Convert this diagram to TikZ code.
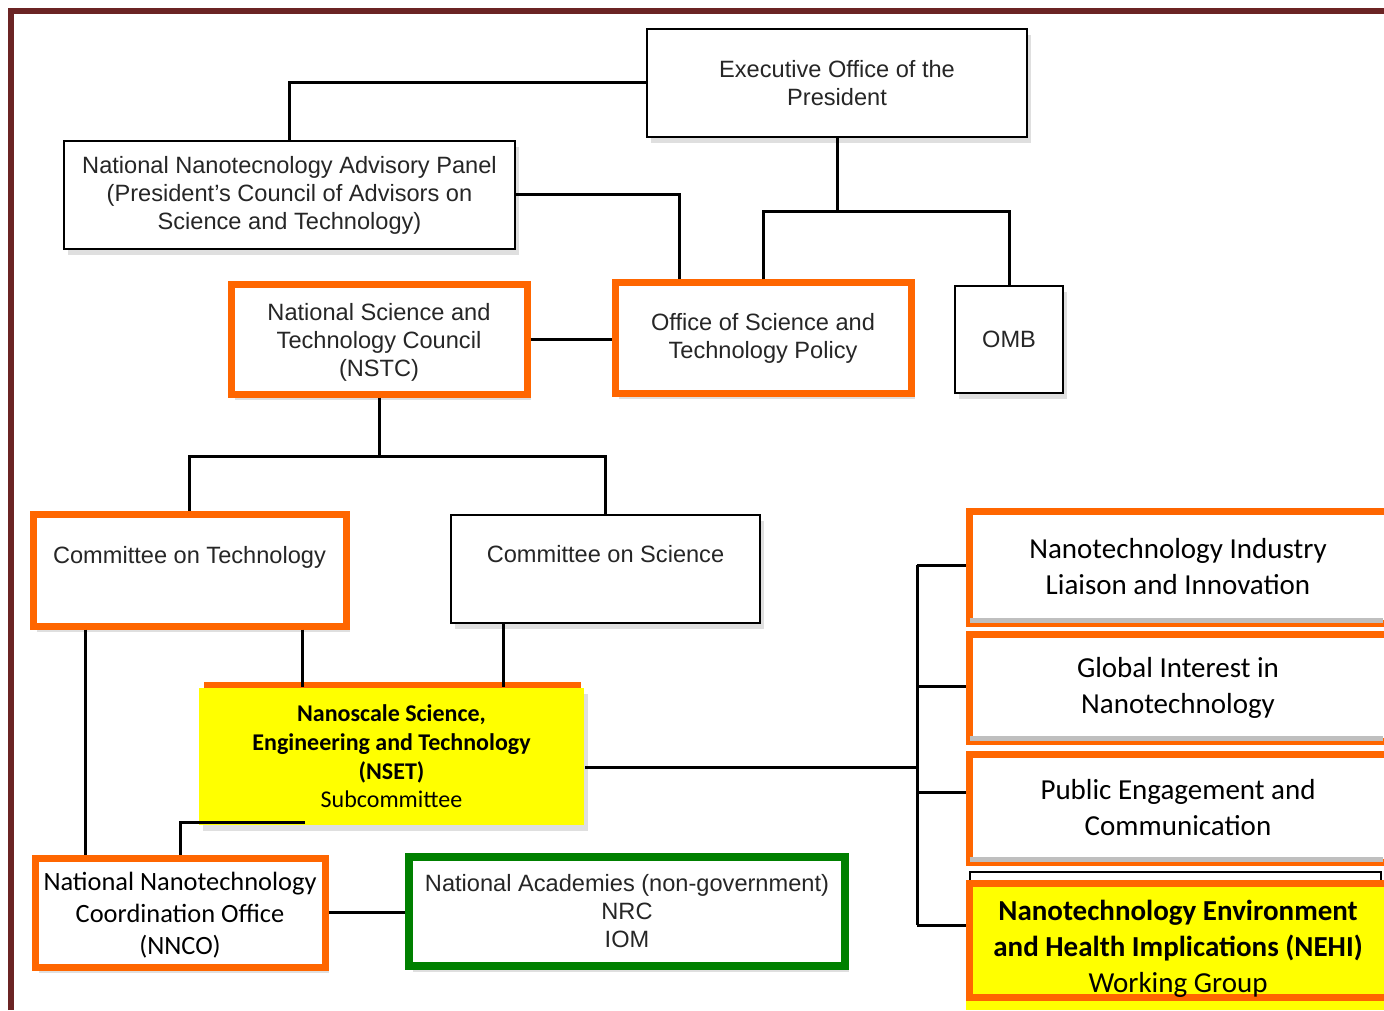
\documentclass[tikz,border=0pt]{standalone}
\usepackage{fontspec}
\setmainfont{Liberation Sans}
\newfontfamily\calib{Carlito}
\usetikzlibrary{positioning,shadows}
\definecolor{framered}{RGB}{107,36,36}
\definecolor{nanoorange}{RGB}{255,102,0}
\definecolor{nanogreen}{RGB}{0,128,0}
\definecolor{nanoyellow}{RGB}{255,255,0}

\begin{document}
\begin{tikzpicture}[x=0.5pt,y=-0.5pt,
    sz/.style 2 args={minimum width=#1*0.5pt, minimum height=#2*0.5pt},
    box/.style={draw=black, line width=1pt, fill=white, text=black!85, align=center, inner sep=0pt,
      font=\fontsize{11.8}{14}\selectfont,
      drop shadow={opacity=0.25, shadow xshift=2pt, shadow yshift=-3pt}},
    obox/.style={box, draw=nanoorange, line width=3.5pt},
    cal/.style={font=\calib\fontsize{13.2}{16}\selectfont, text=black},
    rbox/.style={draw=nanoorange, line width=3.5pt, fill=white, align=center, inner sep=0pt,
      minimum width=209pt, font=\calib\fontsize{14.5}{18}\selectfont, text=black}]
  \clip (0,0) rectangle (1384,1010);
  \fill[white] (0,0) rectangle (1384,1010);
  \draw[framered, line width=3pt] (11,1010) -- (11,11) -- (1384,11);

  % top level
  \node[box, sz={380}{108}] (eop) at (837,83) {Executive Office of the\\President};
  \node[box, sz={451}{108}] (nnap) at (289.5,195) {National Nanotecnology Advisory Panel\\(President's Council of Advisors on\\Science and Technology)};
  \node[obox, sz={296}{110}] (ostp) at (763,338) {Office of Science and\\Technology Policy};
  \node[box, sz={108}{107}] (omb) at (1009,339.5) {OMB};
  \node[obox, sz={296}{109}] (nstc) at (379,339.5) {\rule{0pt}{11.5pt}National Science and\\Technology Council\\(NSTC)};

  % committees
  \node[obox, sz={313}{112}] (cot) at (189.5,570) {\rule{0pt}{12pt}Committee on Technology\\\strut};
  \node[box, sz={309}{108}] (cos) at (605.5,569) {\rule{0pt}{12pt}Committee on Science\\\strut};
  \node[box, draw=none, fill=nanoyellow, cal, font=\calib\fontsize{12}{14.3}\selectfont, sz={385}{137}] (nset) at (391.5,756.5)
    {\textbf{Nanoscale Science,}\\\textbf{Engineering and Technology}\\\textbf{(NSET)}\\Subcommittee};
  \draw[nanoorange, line width=3pt] ([xshift=3pt,yshift=1pt]nset.north west) -- ([xshift=-2pt,yshift=1pt]nset.north east);
  \node[obox, cal, sz={290}{109}] (nnco) at (180,912.5) {\rule{0pt}{12pt}National Nanotechnology\\Coordination Office\\(NNCO)};
  \node[box, draw=nanogreen, line width=4pt, sz={436}{109}] (nas) at (627,911.5) {National Academies (non-government)\\NRC\\IOM};

  % working groups
  \node[rbox, minimum height=56pt] (r1) at (1178,567) {Nanotechnology Industry\\Liaison and Innovation};
  \node[rbox, minimum height=53.5pt] (r2) at (1178,687.5) {Global Interest in\\Nanotechnology};
  \node[rbox, minimum height=54pt] (r3) at (1178,808) {Public Engagement and\\Communication};
  \draw[black, line width=1pt, fill=white] (970,872) rectangle (1381,960);
  \fill[nanoyellow] (966,885) rectangle (1390,1010);
  \node[rbox, fill=nanoyellow, minimum height=56pt] (r4) at (1178,940) {\rule{0pt}{18.5pt}\textbf{Nanotechnology Environment}\\\textbf{and Health Implications (NEHI)}\\Working Group};
  \foreach \n in {r1,r2,r3} {
    \draw[black!25, line width=2.5pt] ([xshift=2pt,yshift=3pt]\n.south west) -- ([xshift=-4pt,yshift=3pt]\n.south east);
    \draw[black!70, line width=0.6pt] ([xshift=-3pt,yshift=-1.75pt]\n.north east) -- ([xshift=-3pt,yshift=1.75pt]\n.south east);
  }

  % connectors
  \draw[line width=1.5pt] (eop.west) -| (nnap.north);
  \draw[line width=1.5pt] (nnap.east) -| ([xshift=-42pt]ostp.north);
  \draw[line width=1.5pt] (eop.south) -- ++(0,74) coordinate (ej);
  \draw[line width=1.5pt] (ostp.north) |- (ej) -| (omb.north);
  \draw[line width=1.5pt] (nstc.east) -- (nstc.east -| ostp.west);
  \draw[line width=1.5pt] (nstc.south) -- ++(0,59) coordinate (nj);
  \draw[line width=1.5pt] (cot.north) |- (nj) -| (cos.north);
  \coordinate (lx) at (85,0);
  \coordinate (tx) at (302,0);
  \coordinate (sx) at (503,0);
  \draw[line width=1.5pt] (cot.south -| lx) -- (nnco.north -| lx);
  \draw[line width=1.5pt] (cot.south -| tx) -- (nset.north -| tx);
  \draw[line width=1.5pt] (cos.south -| sx) -- (nset.north -| sx);
  \coordinate (nb) at (305,822);
  \draw[line width=1.5pt] (nb) -| (nnco.north);
  \draw[line width=1.5pt] (nnco.east) -- (nnco.east -| nas.west);
  \coordinate (bus) at (917,0);
  \coordinate (nsetout) at ([yshift=-5.25pt]nset.east);
  \draw[line width=1.5pt] (nsetout) -- (nsetout -| bus);
  \foreach \n/\d in {r1/1,r2/0.75,r3/8,r4/7.5} {
    \coordinate (b\n) at ([yshift=\d pt]\n.west);
    \draw[line width=1.5pt] (b\n) -- (b\n -| bus);
  }
  \draw[line width=1.5pt] (br1 -| bus) -- (br4 -| bus);
\end{tikzpicture}
\end{document}
